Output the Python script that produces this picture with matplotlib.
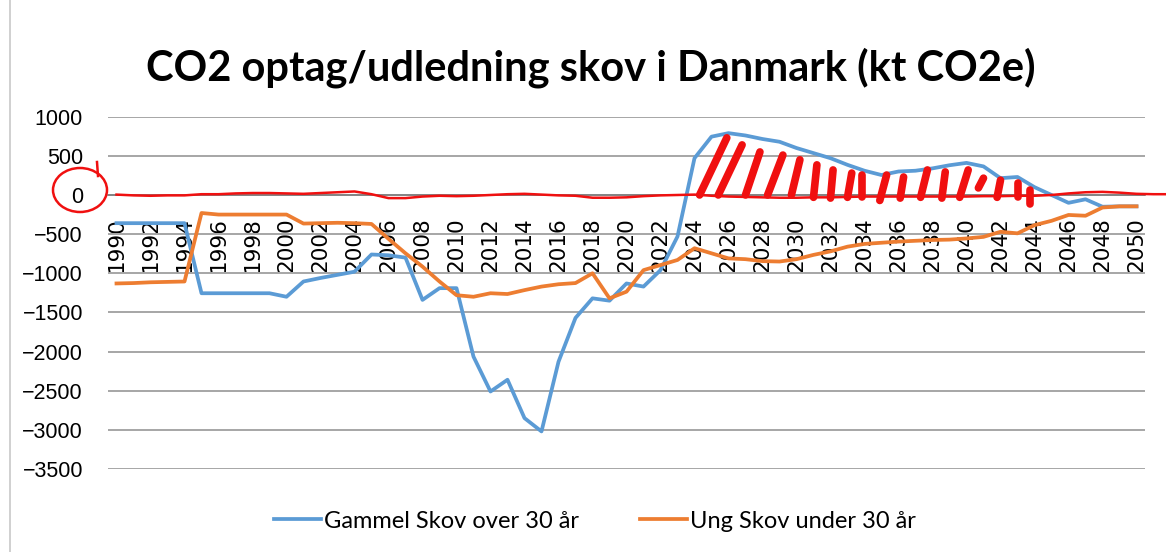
import matplotlib
matplotlib.use("Agg")
import matplotlib.pyplot as plt
from matplotlib.lines import Line2D
from matplotlib.patches import Ellipse

YEARS = list(range(1990, 2051))
TICK_YEARS = list(range(1990, 2051, 2))

GAMMEL = [
    -360, -360, -360, -360, -360, -1255, -1255, -1255, -1255, -1255,
    -1300, -1105, -1060, -1020, -980, -760, -770, -800, -1340, -1190,
    -1190, -2065, -2510, -2360, -2850, -3020, -2130, -1570, -1320, -1350,
    -1130, -1170, -960, -530, 470, 745, 790, 760, 715, 680,
    600, 535, 470, 385, 310, 255, 300, 310, 340, 380,
    410, 365, 215, 230, 100, 0, -100, -55, -150, -145,
    -145,
]
UNG = [
    -1130, -1125, -1115, -1110, -1105, -230, -250, -250, -250, -250,
    -250, -365, -360, -355, -360, -370, -560, -745, -915, -1105,
    -1280, -1300, -1255, -1265, -1215, -1170, -1140, -1125, -1000, -1320,
    -1235, -960, -895, -830, -680, -745, -810, -820, -845, -850,
    -820, -765, -720, -660, -625, -610, -595, -585, -575, -570,
    -555, -535, -470, -490, -385, -330, -255, -265, -160, -145,
    -145,
]
LABELS = ["Gammel Skov over 30 år", "Ung Skov under 30 år"]
TITLE = "CO2 optag/udledning skov i Danmark (kt CO2e)"

# hand drawn red markings on top of the chart
RED_X = list(range(1990, 2053))
RED_Y = [
    5, -5, -10, -5, -5, 10, 10, 20, 25, 25,
    20, 15, 25, 35, 45, 10, -40, -40, -20, -10,
    -15, -10, 0, 10, 15, 5, -5, -10, -35, -35,
    -30, -15, -5, 0, 5, -10, -20, -25, -30, -35,
    -35, -30, -30, -25, -20, -20, -20, -20, -20, -20,
    -20, -15, -15, -10, -10, 0, 20, 35, 40, 30,
    15, 10, 10,
]
HATCH_X0 = [2024.3, 2025.4, 2027.0, 2028.3, 2029.7, 2031.0, 2032.0, 2033.0, 2033.85,
            2034.9, 2036.1, 2037.3, 2038.55, 2039.6, 2040.7, 2041.8, 2043.0, 2043.75]
HATCH_Y0 = [0, 0, 0, 0, 0, -30, -40, -30, -30, -70, -40, -30, -40, -30, 90, -30, -30, -110]
HATCH_X1 = [2025.9, 2026.8, 2027.85, 2029.2, 2030.2, 2031.2, 2032.15, 2033.25, 2033.85,
            2035.3, 2036.3, 2037.7, 2038.75, 2040.1, 2041.0, 2042.0, 2043.0, 2043.75]
HATCH_Y1 = [730, 640, 550, 510, 450, 385, 320, 280, 255, 255, 230, 320, 295, 320, 215, 190, 155, 65]

BLUE = "#5B9BD5"
ORANGE = "#ED7D31"
RED = "#F01010"
GRID = "#A6A6A6"

fig = plt.figure(figsize=(11.66, 5.52), dpi=100)
ax = fig.add_axes([108 / 1166, 1 - 469 / 552, 1037 / 1166, 352.3 / 552])

ax.plot(YEARS, GAMMEL, color=BLUE, lw=2.7, label=LABELS[0], zorder=3)
ax.plot(YEARS, UNG, color=ORANGE, lw=2.7, label=LABELS[1], zorder=3)

ax.set_xlim(1989.5, 2050.5)
ax.set_ylim(-3500, 1000)
ax.set_yticks(range(-3500, 1001, 500))
ax.set_xticks(TICK_YEARS)
ax.set_xticklabels([str(y) for y in TICK_YEARS])
ax.tick_params(axis="x", length=0, pad=16, labelrotation=90, labelsize=15.5)
ax.tick_params(axis="y", length=0, pad=18, labelsize=15.5)
for lab in ax.get_xticklabels() + ax.get_yticklabels():
    lab.set_family("Liberation Sans")

for s in ["top", "right", "left"]:
    ax.spines[s].set_visible(False)
ax.spines["bottom"].set_position(("data", 0))
ax.spines["bottom"].set_color("#7F7F7F")
ax.spines["bottom"].set_linewidth(1.2)
ax.yaxis.grid(True, color=GRID, lw=1.4)
ax.set_axisbelow(True)

# red markings
ax.plot(RED_X, RED_Y, color=RED, lw=1.8, clip_on=False, zorder=4)
for x0, y0, x1, y1 in zip(HATCH_X0, HATCH_Y0, HATCH_X1, HATCH_Y1):
    ax.plot([x0, x1], [y0, y1], color=RED, lw=5.5, solid_capstyle="round", zorder=4)
fig.add_artist(Ellipse((80 / 1166, 1 - 190 / 552), 54 / 1166, 44 / 552,
                       transform=fig.transFigure, fill=False, edgecolor=RED, lw=1.8))
fig.add_artist(Line2D([98 / 1166, 97 / 1166], [1 - 176 / 552, 1 - 162 / 552],
                      transform=fig.transFigure, color=RED, lw=1.8))

# chart frame line on the left
fig.add_artist(Line2D([10 / 1166, 10 / 1166], [0, 1], transform=fig.transFigure,
                      color="#C8C8C8", lw=1.2))

fig.text(0.507, 1 - 68 / 552, TITLE, ha="center", va="center",
         family="Lato", fontweight="bold", fontsize=30)
fig.legend(loc="center", bbox_to_anchor=(0.51, 1 - 521 / 552), ncol=2, frameon=False,
           prop={"family": "Lato", "size": 17}, handlelength=2.0, columnspacing=2.6,
           handletextpad=0.1)

fig.savefig("out.png", dpi=100)
